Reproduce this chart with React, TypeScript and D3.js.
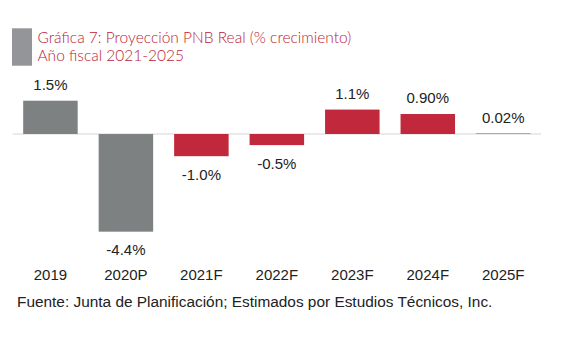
import React from "react";
import * as d3 from "d3";

const categories = ["2019", "2020P", "2021F", "2022F", "2023F", "2024F", "2025F"];
const values = [1.5, -4.4, -1.0, -0.5, 1.1, 0.9, 0.02];
const valueLabels = ["1.5%", "-4.4%", "-1.0%", "-0.5%", "1.1%", "0.90%", "0.02%"];
const isProjection = [false, false, true, true, true, true, true];
const titleLines = ["Gráfica 7: Proyección PNB Real (% crecimiento)", "Año fiscal 2021-2025"];
const source = "Fuente: Junta de Planificación; Estimados por Estudios Técnicos, Inc.";

export default function App() {
  const W = 569, H = 356;
  const x = d3.scaleBand().domain(categories).range([12.7, 541]).paddingInner(0.278).paddingOuter(0.139);
  const y = d3.scaleLinear().domain([0, 1]).range([134, 111.8]);
  const gray = "#7e8181";
  const red = "#c2283b";
  const font = "Liberation Sans, Arial, sans-serif";
  return (
    <svg width={W} height={H} style={{ position: "absolute", left: 0, top: 0 }}>
      <rect x={0} y={0} width={W} height={H} fill="#fff" />
      <rect x={12} y={28.3} width={20} height={37.4} fill="#939598" />
      {titleLines.map((t, i) => (
        <text key={i} x={37.5} y={43.3 + i * 17.4} fontFamily="Lato" fontWeight={300} fontSize={15.5} fill="#bd2233">{t}</text>
      ))}
      <line x1={12.7} x2={541} y1={y(0)} y2={y(0)} stroke="#d6d6d6" strokeWidth={1.2} />
      {categories.map((c, i) => {
        const v = values[i];
        const y0 = y(0), y1 = y(v);
        const top = Math.min(y0, y1);
        const h = Math.abs(y1 - y0);
        const cx = (x(c) as number) + x.bandwidth() / 2;
        const col = isProjection[i] ? red : gray;
        return (
          <g key={c}>
            <rect x={x(c)} y={top} width={x.bandwidth()} height={h} fill={col} />
            <text x={cx} y={v >= 0 ? y1 - 11 : y1 + 23.5} textAnchor="middle" fontFamily={font} fontSize={15} fill="#222">{valueLabels[i]}</text>
            <text x={cx} y={280} textAnchor="middle" fontFamily={font} fontSize={15} fill="#222">{c}</text>
          </g>
        );
      })}
      <text x={17} y={307} fontFamily={font} fontSize={15.4} fill="#222">{source}</text>
    </svg>
  );
}
